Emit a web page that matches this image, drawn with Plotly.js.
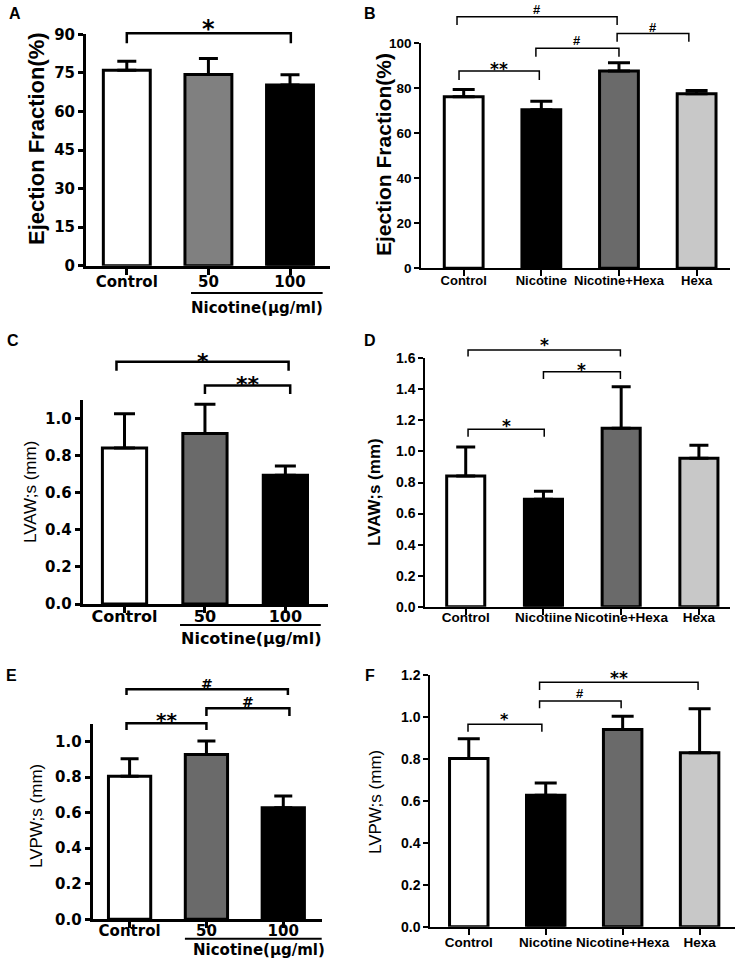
<!DOCTYPE html>
<html><head><meta charset="utf-8">
<script src="https://cdn.plot.ly/plotly-3.0.1.min.js"></script>
<style>html,body{margin:0;padding:0;background:#fff;}#chart{width:744px;height:958px;}</style>
</head><body><div id="chart"></div>
<script>
// ---------------- data ----------------
const catsA = ['Control', '50', '100'];
const efA = [76.0, 74.4, 70.3];
const efA_sem = [3.5, 6.2, 4.0];

const catsB = ['Control', 'Nicotine', 'Nicotine+Hexa', 'Hexa'];
const efB = [76.2, 70.5, 87.7, 77.6];
const efB_sem = [3.3, 3.8, 3.7, 1.4];

const catsC = ['Control', '50', '100'];
const lvawC = [0.840, 0.918, 0.693];
const lvawC_sem = [0.185, 0.157, 0.050];

const catsD = ['Control', 'Nicotiine', 'Nicotine+Hexa', 'Hexa'];
const lvawD = [0.842, 0.692, 1.150, 0.957];
const lvawD_sem = [0.187, 0.051, 0.266, 0.083];

const catsE = ['Control', '50', '100'];
const lvpwE = [0.805, 0.927, 0.627];
const lvpwE_sem = [0.099, 0.076, 0.067];

const catsF = ['Control', 'Nicotine', 'Nicotine+Hexa', 'Hexa'];
const lvpwF = [0.802, 0.627, 0.940, 0.829];
const lvpwF_sem = [0.094, 0.058, 0.063, 0.210];

// significance comparisons: [group i, group j, label]
const sigA = [[0, 2, '*']];
const sigB = [[0, 2, '#'], [1, 2, '#'], [2, 3, '#'], [0, 1, '**']];
const sigC = [[0, 2, '*'], [1, 2, '**']];
const sigD = [[0, 2, '*'], [1, 2, '*'], [0, 1, '*']];
const sigE = [[0, 2, '#'], [1, 2, '#'], [0, 1, '**']];
const sigF = [[1, 3, '**'], [1, 2, '#'], [0, 1, '*']];

const yTitleEF = 'Ejection Fraction(%)';
const yTitleLVAW = 'LVAW;s (mm)';
const yTitleLVPW = 'LVPW;s (mm)';
const groupTitle = 'Nicotine(μg/ml)';

// ---------------- styles / layout geometry ----------------
const W = 744, H = 958;
const DJ = 'DejaVu Sans', LS = 'Liberation Sans';
const WHITE = '#ffffff', BLACK = '#000000', MID = '#808080', DARK = '#6a6a6a', LIGHT = '#c8c8c8';

const panels = [
  { letter: 'A', lpos: [15, 13], cats: catsA, vals: efA, err: efA_sem, sig: sigA, title: yTitleEF,
    st: { px: [86, 330], py: [34.3, 265.7], xr: [-0.5, 2.49], yr: [0, 90], dtick: 15, fmt: 'd',
      bw: 0.575, lw: 3, axw: 3, capw: 9.5, errw: 3, colors: [WHITE, MID, BLACK], xso: -6,
      tick: { family: DJ, size: 15, weight: 'bold' }, xtick: { family: DJ, size: 15, weight: 'bold' },
      yt: { x: 37, y: 139, family: LS, size: 22, weight: 'bold' },
      br: { lw: 2.5, geom: [[0, 0.01, 90.4, 86.5, 94.4]], fonts: [{ family: DJ, size: 24, weight: 'bold' }] },
      group: { x0: 0.787, x1: 2.40, ly: 293, tx: 257, ty: 308, font: { family: DJ, size: 15, weight: 'bold' } } } },
  { letter: 'B', lpos: [370, 13], cats: catsB, vals: efB, err: efB_sem, sig: sigB, title: yTitleEF,
    st: { px: [421.3, 730], py: [43.3, 268.3], xr: [-0.546, 3.43], yr: [0, 100], dtick: 20, fmt: 'd',
      bw: 0.50, lw: 3, axw: 2, capw: 11, errw: 3, colors: [WHITE, BLACK, DARK, LIGHT], xso: -7,
      tick: { family: LS, size: 13.5, weight: 'bold' }, xtick: { family: LS, size: 13, weight: 'bold' },
      yt: { x: 383, y: 155, family: LS, size: 21, weight: 'bold' },
      br: { lw: 1.5, geom: [[-0.086, -0.024, 111.8, 108.1, 115.2], [-0.07, 0, 97.8, 94.0, 101.2],
                            [-0.024, -0.1, 104.4, 100.7, 106.8], [-0.06, -0.026, 87.7, 83.7, 90.5]],
            fonts: [{ family: LS, size: 13, weight: 'bold' }, { family: LS, size: 13, weight: 'bold' },
                    { family: LS, size: 13, weight: 'bold' }, { family: DJ, size: 17, weight: 'bold' }] } } },
  { letter: 'C', lpos: [13, 340], cats: catsC, vals: lvawC, err: lvawC_sem, sig: sigC, title: yTitleLVAW,
    st: { px: [82.7, 328], py: [399.7, 604], xr: [-0.52, 2.53], yr: [0, 1.1], dtick: 0.2, fmt: '.1f',
      bw: 0.55, lw: 3, axw: 3, capw: 10.5, errw: 3, colors: [WHITE, DARK, BLACK], xso: -10,
      tick: { family: DJ, size: 15, weight: 'bold' }, xtick: { family: DJ, size: 16, weight: 'bold' },
      yt: { x: 30, y: 492, family: LS, size: 17, weight: 'normal' },
      br: { lw: 2.5, geom: [[-0.1, 0.04, 1.305, 1.256, 1.335], [0, 0.06, 1.176, 1.131, 1.212]],
            fonts: [{ family: DJ, size: 22, weight: 'bold' }, { family: DJ, size: 22, weight: 'bold' }] },
      group: { x0: 0.69, x1: 2.44, ly: 625, tx: 252, ty: 638, font: { family: DJ, size: 16, weight: 'bold' } } } },
  { letter: 'D', lpos: [370, 340], cats: catsD, vals: lvawD, err: lvawD_sem, sig: sigD, title: yTitleLVAW,
    st: { px: [425.3, 730], py: [358.3, 606.7], xr: [-0.52, 3.40], yr: [0, 1.6], dtick: 0.2, fmt: '.1f',
      bw: 0.49, lw: 3, axw: 2, capw: 9.5, errw: 3, colors: [WHITE, BLACK, DARK, LIGHT], xso: -9,
      tick: { family: LS, size: 14, weight: 'bold' }, xtick: { family: LS, size: 13.5, weight: 'bold' },
      yt: { x: 374, y: 492, family: LS, size: 17, weight: 'bold' },
      br: { lw: 1.5, geom: [[0.03, -0.01, 1.654, 1.611, 1.709], [0, -0.01, 1.514, 1.467, 1.554], [0.03, 0.01, 1.143, 1.095, 1.190]],
            fonts: [{ family: DJ, size: 17, weight: 'bold' }, { family: DJ, size: 17, weight: 'bold' }, { family: DJ, size: 17, weight: 'bold' }] } } },
  { letter: 'E', lpos: [11, 675], cats: catsE, vals: lvpwE, err: lvpwE_sem, sig: sigE, title: yTitleLVPW,
    st: { px: [92.7, 321.7], py: [723.8, 919.3], xr: [-0.48, 2.5], yr: [0, 1.1], dtick: 0.2, fmt: '.1f',
      bw: 0.55, lw: 3, axw: 3, capw: 9, errw: 3, colors: [WHITE, DARK, BLACK], xso: -10,
      tick: { family: DJ, size: 15, weight: 'bold' }, xtick: { family: DJ, size: 15, weight: 'bold' },
      yt: { x: 36, y: 816, family: LS, size: 17, weight: 'normal' },
      br: { lw: 2.5, geom: [[-0.04, 0.06, 1.294, 1.262, 1.324], [0, 0.08, 1.187, 1.144, 1.223], [-0.04, 0, 1.103, 1.065, 1.147]],
            fonts: [{ family: DJ, size: 14, weight: 'bold' }, { family: DJ, size: 14, weight: 'bold' }, { family: DJ, size: 20, weight: 'bold' }] },
      group: { x0: 0.72, x1: 2.5, ly: 938.8, tx: 259, ty: 950, font: { family: DJ, size: 15, weight: 'bold' } } } },
  { letter: 'F', lpos: [370, 675], cats: catsF, vals: lvpwF, err: lvpwF_sem, sig: sigF, title: yTitleLVPW,
    st: { px: [430.3, 735], py: [675, 926.7], xr: [-0.5, 3.46], yr: [0, 1.2], dtick: 0.2, fmt: '.1f',
      bw: 0.50, lw: 3, axw: 2, capw: 11, errw: 3, colors: [WHITE, BLACK, DARK, LIGHT], xso: -4,
      tick: { family: LS, size: 14, weight: 'bold' }, xtick: { family: LS, size: 13.5, weight: 'bold' },
      yt: { x: 375, y: 802, family: LS, size: 17, weight: 'normal' },
      br: { lw: 1.5, geom: [[-0.08, -0.02, 1.165, 1.129, 1.205], [-0.08, -0.02, 1.076, 1.041, 1.113], [-0.01, -0.05, 0.965, 0.930, 1.005]],
            fonts: [{ family: DJ, size: 17, weight: 'bold' }, { family: LS, size: 13, weight: 'bold' }, { family: DJ, size: 16, weight: 'bold' }] } } }
];

const data = [];
const layout = {
  width: W, height: H, margin: { l: 0, r: 0, t: 0, b: 0 }, showlegend: false,
  paper_bgcolor: '#ffffff', plot_bgcolor: 'rgba(0,0,0,0)',
  font: { family: LS, color: BLACK }, shapes: [], annotations: []
};

panels.forEach((p, k) => {
  const n = k === 0 ? '' : String(k + 1);
  const xa = 'x' + n, ya = 'y' + n;
  const s = p.st;
  data.push({
    type: 'bar', x: p.cats, y: p.vals, xaxis: xa, yaxis: ya, width: s.bw, hoverinfo: 'none',
    marker: { color: s.colors, line: { color: BLACK, width: s.lw } },
    error_y: { type: 'data', symmetric: false, array: p.err, arrayminus: p.err.map(() => 0),
      color: BLACK, thickness: s.errw, width: s.capw }
  });
  layout['xaxis' + n] = {
    domain: [s.px[0] / W, s.px[1] / W], anchor: ya, type: 'category', range: s.xr,
    showline: true, linecolor: BLACK, linewidth: s.axw, ticks: 'outside', ticklen: 6,
    tickwidth: s.axw, tickcolor: BLACK, tickfont: Object.assign({ color: BLACK }, s.xtick),
    ticklabelstandoff: s.xso,
    showgrid: false, zeroline: false, fixedrange: true
  };
  layout['yaxis' + n] = {
    domain: [1 - s.py[1] / H, 1 - s.py[0] / H], anchor: xa, range: s.yr, tick0: 0, dtick: s.dtick,
    tickformat: s.fmt, showline: true, linecolor: BLACK, linewidth: s.axw, ticks: 'outside', ticklen: 5,
    tickwidth: s.axw, tickcolor: BLACK, tickfont: Object.assign({ color: BLACK }, s.tick),
    showgrid: false, zeroline: false, fixedrange: true
  };
  const xd = xa + ' domain', yd = ya + ' domain';
  const fx = v => (v - s.xr[0]) / (s.xr[1] - s.xr[0]);
  const fy = v => v / s.yr[1];
  // significance brackets
  p.sig.forEach((c, i) => {
    const g = s.br.geom[i];
    const x0 = fx(c[0] + g[0]), x1 = fx(c[1] + g[1]);
    layout.shapes.push({ type: 'path', xref: xd, yref: yd,
      path: `M${x0},${fy(g[3])} L${x0},${fy(g[2])} L${x1},${fy(g[2])} L${x1},${fy(g[3])}`,
      line: { color: BLACK, width: s.br.lw } });
    const f = s.br.fonts[i];
    const isStar = c[2].indexOf('*') >= 0;
    layout.annotations.push({ xref: xd, yref: yd, x: (x0 + x1) / 2, y: fy(g[4]), text: c[2],
      showarrow: false, xanchor: 'center', yanchor: 'middle', yshift: isStar ? -0.24 * f.size : 0,
      font: Object.assign({ color: BLACK }, f) });
  });
  // y title
  layout.annotations.push({ xref: 'paper', yref: 'paper', x: s.yt.x / W, y: 1 - s.yt.y / H,
    text: p.title, textangle: -90, showarrow: false, xanchor: 'center', yanchor: 'middle',
    font: { family: s.yt.family, size: s.yt.size, weight: s.yt.weight, color: BLACK } });
  // panel letter
  layout.annotations.push({ xref: 'paper', yref: 'paper', x: p.lpos[0] / W, y: 1 - p.lpos[1] / H,
    text: p.letter, showarrow: false, xanchor: 'center', yanchor: 'middle',
    font: { family: LS, size: 16, weight: 'bold', color: BLACK } });
  // dose group underline + label
  if (s.group) {
    const gy = 1 - s.group.ly / H;
    layout.shapes.push({ type: 'line', xref: xd, yref: 'paper', x0: fx(s.group.x0), x1: fx(s.group.x1),
      y0: gy, y1: gy, line: { color: BLACK, width: 2 } });
    layout.annotations.push({ xref: 'paper', yref: 'paper', x: s.group.tx / W, y: 1 - s.group.ty / H,
      text: groupTitle, showarrow: false, xanchor: 'center', yanchor: 'middle',
      font: Object.assign({ color: BLACK }, s.group.font) });
  }
});

Plotly.newPlot('chart', data, layout, { staticPlot: true, displayModeBar: false });
</script>
</body></html>
